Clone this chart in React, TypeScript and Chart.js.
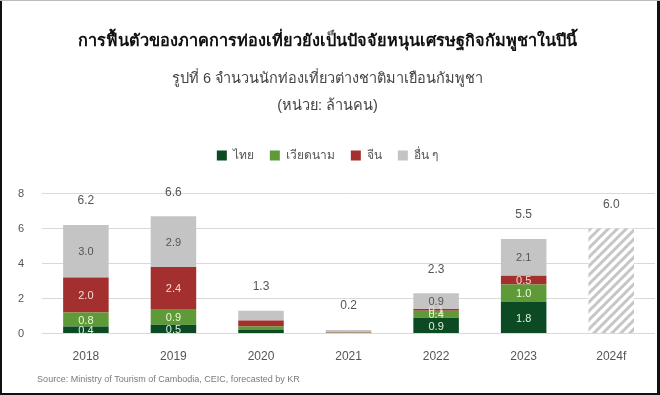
import React, { useEffect, useRef } from "react";
import { Chart, registerables } from "chart.js";

Chart.register(...registerables);

const years = ["2018", "2019", "2020", "2021", "2022", "2023", "2024f"];
const thai = [0.4, 0.5, 0.2, 0.03, 0.9, 1.8, null];
const vietnam = [0.8, 0.9, 0.2, 0.02, 0.4, 1.0, null];
const china = [2.0, 2.4, 0.35, 0.02, 0.1, 0.5, null];
const others = [3.0, 2.9, 0.55, 0.13, 0.9, 2.1, null];
const forecast = [null, null, null, null, null, null, 6.0];
const totals = [6.2, 6.6, 1.3, 0.2, 2.3, 5.5, 6.0];
const yTicks = [0, 2, 4, 6, 8];

const titleText = "การฟื้นตัวของภาคการท่องเที่ยวยังเป็นปัจจัยหนุนเศรษฐกิจกัมพูชาในปีนี้";
const subtitleLines = ["รูปที่ 6 จำนวนนักท่องเที่ยวต่างชาติมาเยือนกัมพูชา", "(หน่วย: ล้านคน)"];
const seriesNames = ["ไทย", "เวียดนาม", "จีน", "อื่น ๆ"];
const sourceText = "Source: Ministry of Tourism of Cambodia, CEIC, forecasted by KR";

const FONT = "'Liberation Sans', Arial, 'Noto Sans', sans-serif";
const colors = ["#0b4a23", "#5f9a38", "#a3302f", "#c4c4c4"];
const labelColors = ["#dff0df", "#eef7dc", "#f9d9d6", "#555555"];

function makeHatch(): CanvasPattern | string {
  const c = document.createElement("canvas");
  const s = 9;
  c.width = s;
  c.height = s;
  const ctx = c.getContext("2d");
  if (!ctx) return "#dddddd";
  ctx.fillStyle = "#ffffff";
  ctx.fillRect(0, 0, s, s);
  ctx.strokeStyle = "#c6c6c6";
  ctx.lineWidth = 3;
  ctx.beginPath();
  ctx.moveTo(-2, s + 2);
  ctx.lineTo(s + 2, -2);
  ctx.moveTo(-2, 2);
  ctx.lineTo(2, -2);
  ctx.moveTo(s - 2, s + 2);
  ctx.lineTo(s + 2, s - 2);
  ctx.stroke();
  const p = ctx.createPattern(c, "repeat");
  return p || "#dddddd";
}

export default function App() {
  const ref = useRef<HTMLCanvasElement | null>(null);

  useEffect(() => {
    document.body.style.margin = "0";
    const canvas = ref.current;
    if (!canvas) return;

    const legendGap = {
      id: "legendGap",
      beforeInit(chart: any) {
        const legend = chart.legend;
        if (!legend) return;
        const orig = legend.fit;
        legend.fit = function () {
          orig.call(this);
          this.height += 22;
        };
      },
    };

    const labelPlugin = {
      id: "labels",
      afterDatasetsDraw(chart: any) {
        const ctx = chart.ctx;
        const y = chart.scales.y;
        ctx.save();
        ctx.textAlign = "center";
        ctx.textBaseline = "middle";
        for (let d = 0; d < 4; d++) {
          const meta = chart.getDatasetMeta(d);
          meta.data.forEach((bar: any, i: number) => {
            const v = chart.data.datasets[d].data[i];
            if (v == null || totals[i] < 2) return;
            const props = bar.getProps(["x", "y", "base"], true);
            ctx.font = `11px ${FONT}`;
            ctx.fillStyle = labelColors[d];
            ctx.fillText(Number(v).toFixed(1), props.x, (props.y + props.base) / 2 + 1);
          });
        }
        const firstMeta = chart.getDatasetMeta(0);
        ctx.font = `12px ${FONT}`;
        ctx.fillStyle = "#555555";
        totals.forEach((t, i) => {
          let sum = 0;
          chart.data.datasets.forEach((ds: any) => {
            const v = ds.data[i];
            if (v != null) sum += v;
          });
          const x = firstMeta.data[i].x;
          ctx.fillText(t.toFixed(1), x, y.getPixelForValue(sum) - 24);
        });
        ctx.textAlign = "left";
        ctx.font = `9px ${FONT}`;
        ctx.fillStyle = "#7a7a7a";
        ctx.fillText(sourceText, chart.chartArea.left - 5, chart.height - 15);
        ctx.fillStyle = "#111111";
        ctx.fillRect(0, 0, 2, chart.height);
        ctx.fillRect(chart.width - 3, 0, 3, chart.height);
        ctx.fillRect(0, chart.height - 2, chart.width, 2);
        ctx.fillStyle = "#bbbbbb";
        ctx.fillRect(0, 0, chart.width, 1);
        ctx.restore();
      },
    };

    const series = [thai, vietnam, china, others];
    const datasets: any[] = series.map((data, k) => ({
      label: seriesNames[k],
      data,
      backgroundColor: colors[k],
      borderWidth: 0,
      stack: "s",
    }));
    datasets.push({
      label: "forecast",
      data: forecast,
      backgroundColor: makeHatch(),
      borderWidth: 0,
      stack: "s",
    });

    const chart = new Chart(canvas, {
      type: "bar",
      data: { labels: years, datasets },
      plugins: [legendGap, labelPlugin],
      options: {
        animation: false,
        responsive: false,
        devicePixelRatio: 1,
        layout: { padding: { left: 0, right: 5, top: 0, bottom: 15 } },
        datasets: {
          bar: { categoryPercentage: 0.52, barPercentage: 1 },
        },
        plugins: {
          tooltip: { enabled: false },
          title: {
            display: true,
            text: titleText,
            color: "#111111",
            font: { family: FONT, size: 16.3, weight: "bold", lineHeight: "20px" } as any,
            padding: { top: 32, bottom: 0 },
          },
          subtitle: {
            display: true,
            text: subtitleLines,
            color: "#444444",
            font: { family: FONT, size: 14.5, lineHeight: "27px" } as any,
            padding: { top: 13.5, bottom: 14 },
          },
          legend: {
            display: true,
            position: "top",
            labels: {
              boxWidth: 10,
              boxHeight: 10,
              font: { family: FONT, size: 12 },
              color: "#555555",
              padding: 16,
              filter: (item: any) => item.datasetIndex < 4,
            },
          },
        },
        scales: {
          x: {
            stacked: true,
            grid: { display: false, drawTicks: false },
            border: { display: false },
            ticks: { color: "#555555", font: { family: FONT, size: 12 }, padding: 16 },
          },
          y: {
            stacked: true,
            min: 0,
            max: 8,
            afterBuildTicks: (scale: any) => {
              scale.ticks = yTicks.map((v) => ({ value: v }));
            },
            grid: { color: "#d9d9d9", drawTicks: false },
            border: { display: false },
            ticks: { color: "#555555", font: { family: FONT, size: 11 }, padding: 18 },
          },
        },
      },
    });
    return () => chart.destroy();
  }, []);

  return (
    <div style={{ width: 660, height: 395, background: "#ffffff" }}>
      <canvas ref={ref} width={660} height={395} style={{ display: "block" }} />
    </div>
  );
}
